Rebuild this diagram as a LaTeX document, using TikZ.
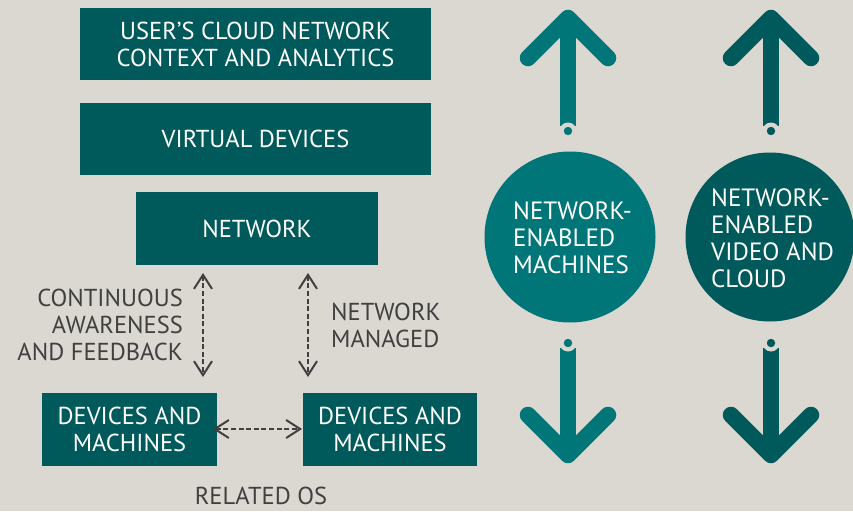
\documentclass[tikz,border=0pt]{standalone}
\usepackage{fontspec}
\setmainfont{PT Sans}
\usetikzlibrary{arrows.meta}
\definecolor{bg}{RGB}{219,215,209}
\definecolor{dteal}{RGB}{0,89,91}
\definecolor{lteal}{RGB}{0,118,121}
\definecolor{tgray}{RGB}{64,64,64}
\tikzset{
  box/.style={fill=dteal, text=white, align=center, inner sep=0pt, font=\fontsize{24.5}{27}\selectfont},
  lbl/.style={text=tgray, inner sep=0pt, font=\fontsize{24.5}{27}\selectfont},
  dashconn/.style={draw=tgray, line width=2pt, dash pattern=on 5pt off 2.6pt, {Straight Barb[length=14pt,width=18pt,line width=2pt]}-{Straight Barb[length=14pt,width=18pt,line width=2pt]}},
  ctext/.style={text=white, align=left, inner sep=0pt, font=\fontsize{25}{27}\selectfont},
  bigarr/.style={line width=16.5pt, line cap=round, line join=round},
}
\newcommand{\uparr}[2]{%
  \draw[#2, bigarr] (#1-40,58) -- (#1,18) -- (#1+40,58);
  \draw[#2, line width=16.5pt] (#1,18) -- (#1,126);
  \fill[bg] (#1,131) circle (8.5);
  \fill[#2] (#1,131) circle (4.2);
}
\newcommand{\downarr}[2]{%
  \draw[#2, bigarr] (#1-40,415) -- (#1,455) -- (#1+40,415);
  \draw[#2, line width=16.5pt] (#1,455) -- (#1,348);
  \fill[bg] (#1,343) circle (8.5);
  \fill[#2] (#1,343) circle (4.2);
}
\begin{document}
\begin{tikzpicture}[x=1pt,y=-1pt]
\fill[bg] (0,0) rectangle (853,511);
\useasboundingbox (0,0) rectangle (853,511);

\node[box, minimum width=351pt, minimum height=72pt] (b1) at (255.5,44) {USER’S CLOUD NETWORK\\CONTEXT AND ANALYTICS};
\node[box, minimum width=351pt, minimum height=72pt] (b2) at (255.5,139) {VIRTUAL DEVICES};
\node[box, minimum width=242pt, minimum height=73pt] (b3) at (257,228.5) {NETWORK};
\node[box, minimum width=175pt, minimum height=73pt] (d1) at (129.5,429.5) {DEVICES AND\\MACHINES};
\node[box, minimum width=174pt, minimum height=73pt] (d2) at (390,429.5) {DEVICES AND\\MACHINES};

\coordinate (la) at (203,273);
\coordinate (lb) at (203,377);
\coordinate (ra) at (308,273);
\coordinate (rb) at (308,377);
\coordinate (ha) at (213,429);
\coordinate (hb) at (302,429);
\draw[dashconn] (la) -- (lb);
\draw[dashconn] (ra) -- (rb);
\draw[dashconn] (ha) -- (hb);

\node[lbl, align=right, anchor=east] (t1) at (183,325) {CONTINUOUS\\AWARENESS\\AND FEEDBACK};
\node[lbl, align=left, anchor=west] (t2) at (331,325) {NETWORK\\MANAGED};
\node[lbl] (t3) at (261,496) {RELATED OS};

\fill[lteal] (570,237) circle (85.5);
\fill[dteal] (770,237) circle (84.5);
\node[ctext, anchor=west] (c1) at (513,238) {NETWORK-\\ENABLED\\MACHINES};
\node[ctext, anchor=west] (c2) at (711,238) {NETWORK-\\ENABLED\\VIDEO AND\\CLOUD};

\uparr{568}{lteal}
\uparr{771}{dteal}
\downarr{568}{lteal}
\downarr{771}{dteal}
\end{tikzpicture}
\end{document}
